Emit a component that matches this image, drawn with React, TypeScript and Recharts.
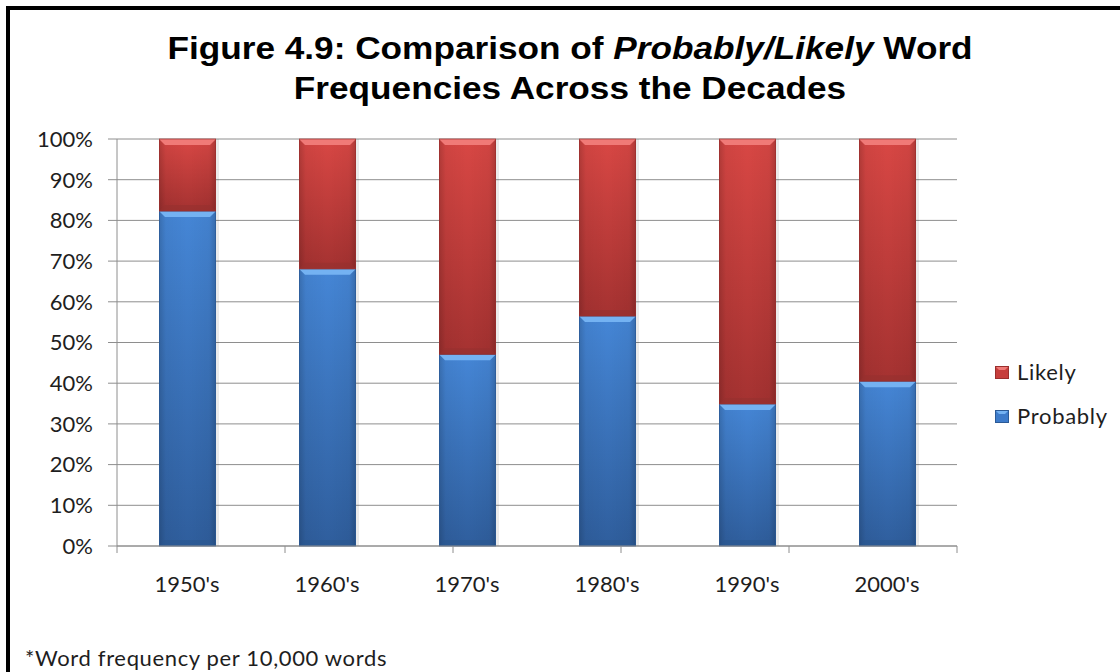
import { BarChart, Bar, XAxis, YAxis, CartesianGrid, Legend } from "recharts";

const decades = ["1950's", "1960's", "1970's", "1980's", "1990's", "2000's"];
const probably = [82.3, 68.1, 47.1, 56.5, 34.9, 40.5];
const likely = [17.7, 31.9, 52.9, 43.5, 65.1, 59.5];
const percentTicks = [0, 10, 20, 30, 40, 50, 60, 70, 80, 90, 100];
const edgeTicks = [0, 1, 2, 3, 4, 5, 6];

const data = decades.map((decade, i) => ({ decade, Probably: probably[i], Likely: likely[i] }));

const FONT = "Lato, 'Open Sans', sans-serif";
const GRID = "#8e8e8e";

const palette = {
  Probably: { grad: "gradBlue", light: "#74b2f2", dark: "#2a5690", edge: "#2b5a96", icon: "#3d7bca" },
  Likely: { grad: "gradRed", light: "#f07a77", dark: "#96302e", edge: "#9a2f2d", icon: "#c63e3c" },
};

type Colors = (typeof palette)["Probably"];

function bevelShape(c: Colors) {
  return (props: any) => {
    const { x, y, width, height } = props;
    if (!height || height <= 0) return <g />;
    const b = Math.min(6, height / 2);
    return (
      <g>
        <rect x={x + 3} y={y} width={width} height={height} fill="rgba(0,0,0,0.08)" />
        <rect x={x} y={y} width={width} height={height} fill={`url(#${c.grad})`} />
        <rect x={x} y={y} width={width} height={height} fill="url(#sideShade)" />
        <polygon points={`${x},${y} ${x + width},${y} ${x + width - b},${y + b} ${x + b},${y + b}`} fill={c.light} />
        <polygon
          points={`${x},${y + height} ${x + width},${y + height} ${x + width - b},${y + height - b} ${x + b},${y + height - b}`}
          fill={c.dark}
          opacity={0.6}
        />
        <rect x={x + 0.5} y={y} width={width - 1} height={height} fill="none" stroke={c.edge} strokeWidth={1} opacity={0.7} />
      </g>
    );
  };
}

function LegendBox({ payload }: any) {
  // Likely on top, Probably below
  const items = [...(payload || [])].sort((a: any, b: any) => (a.value === "Likely" ? -1 : b.value === "Likely" ? 1 : 0));
  return (
    <div style={{ width: 163, paddingLeft: 38, boxSizing: "border-box" }}>
      {items.map((it: any) => {
        const c = palette[it.value as "Probably" | "Likely"];
        return (
          <div key={it.value} style={{ display: "flex", alignItems: "center", height: 44 }}>
            <svg width={14} height={13} style={{ marginRight: 8 }}>
              <rect x={0} y={0} width={14} height={13} fill={c.icon} />
              <polygon points="0,0 14,0 10,4 4,4" fill={c.light} />
              <rect x={0.5} y={0.5} width={13} height={12} fill="none" stroke={c.edge} />
            </svg>
            <span style={{ fontFamily: FONT, fontSize: 22, letterSpacing: 0.7, color: "#1e1e1e", lineHeight: "26px" }}>
              {it.value}
            </span>
          </div>
        );
      })}
    </div>
  );
}

export default function App() {
  return (
    <div style={{ position: "absolute", left: 0, top: 0, width: 1120, height: 672, overflow: "hidden", background: "#fff" }}>
      <svg width={0} height={0} style={{ position: "absolute" }}>
        <defs>
          <linearGradient id="gradBlue" x1="0" y1="0" x2="0" y2="1">
            <stop offset="0%" stopColor="#4586d6" />
            <stop offset="100%" stopColor="#2f5e9d" />
          </linearGradient>
          <linearGradient id="gradRed" x1="0" y1="0" x2="0" y2="1">
            <stop offset="0%" stopColor="#d84744" />
            <stop offset="100%" stopColor="#a53231" />
          </linearGradient>
          <linearGradient id="sideShade" x1="0" y1="0" x2="1" y2="0">
            <stop offset="0%" stopColor="#000" stopOpacity={0.18} />
            <stop offset="12%" stopColor="#000" stopOpacity={0.04} />
            <stop offset="50%" stopColor="#000" stopOpacity={0} />
            <stop offset="88%" stopColor="#000" stopOpacity={0.04} />
            <stop offset="100%" stopColor="#000" stopOpacity={0.2} />
          </linearGradient>
        </defs>
      </svg>

      <div
        style={{
          position: "absolute",
          left: 6,
          top: 6,
          width: 1200,
          height: 800,
          border: "4px solid #000",
        }}
      />

      <div
        style={{
          position: "absolute",
          left: 0,
          top: 28,
          width: 1140,
          textAlign: "center",
          fontFamily: "'Liberation Sans', Arial, sans-serif",
          fontWeight: "bold",
          fontSize: 32,
          lineHeight: "40px",
          color: "#000",
          transform: "scaleX(1.1)",
          transformOrigin: "570px 0",
        }}
      >
        Figure 4.9: Comparison of <i>Probably/Likely</i> Word
        <br />
        Frequencies Across the Decades
      </div>

      <div style={{ position: "absolute", left: 0, top: 0 }}>
        <BarChart width={1120} height={672} data={data} margin={{ top: 139, right: 0, bottom: 78, left: 0 }}>
          <CartesianGrid vertical={false} stroke={GRID} strokeWidth={1} xAxisId="b" />
          <XAxis
            xAxisId="b"
            dataKey="decade"
            height={40}
            axisLine={false}
            tickLine={false}
            tickSize={0}
            tickMargin={22}
            interval={0}
            tick={{ fontFamily: FONT, fontSize: 22, fill: "#1e1e1e" }}
          />
          <XAxis
            xAxisId="a"
            type="number"
            domain={[0, 6]}
            allowDataOverflow
            ticks={edgeTicks}
            interval={0}
            height={8}
            tickSize={7}
            tickFormatter={() => ""}
            axisLine={{ stroke: GRID }}
            tickLine={{ stroke: GRID }}
          />
          <YAxis
            width={117}
            domain={[0, 100]}
            ticks={percentTicks}
            interval={0}
            tickSize={9}
            tickMargin={15}
            tickFormatter={(v: number) => `${v}%`}
            axisLine={{ stroke: GRID }}
            tickLine={{ stroke: GRID }}
            tick={{ fontFamily: FONT, fontSize: 22, fill: "#1e1e1e" }}
          />
          <Legend
            layout="vertical"
            align="right"
            verticalAlign="middle"
            content={<LegendBox />}
            wrapperStyle={{ top: 350 }}
          />
          <Bar xAxisId="b" dataKey="Probably" stackId="a" barSize={57} fill="#3d7bca" shape={bevelShape(palette.Probably)} isAnimationActive={false} />
          <Bar xAxisId="b" dataKey="Likely" stackId="a" barSize={57} fill="#c63e3c" shape={bevelShape(palette.Likely)} isAnimationActive={false} />
        </BarChart>
      </div>

      <div
        style={{
          position: "absolute",
          left: 25,
          top: 645,
          fontFamily: FONT,
          fontSize: 22,
          letterSpacing: 0.65,
          lineHeight: "26px",
          color: "#1e1e1e",
          whiteSpace: "nowrap",
        }}
      >
        *Word frequency per 10,000 words
      </div>
    </div>
  );
}
